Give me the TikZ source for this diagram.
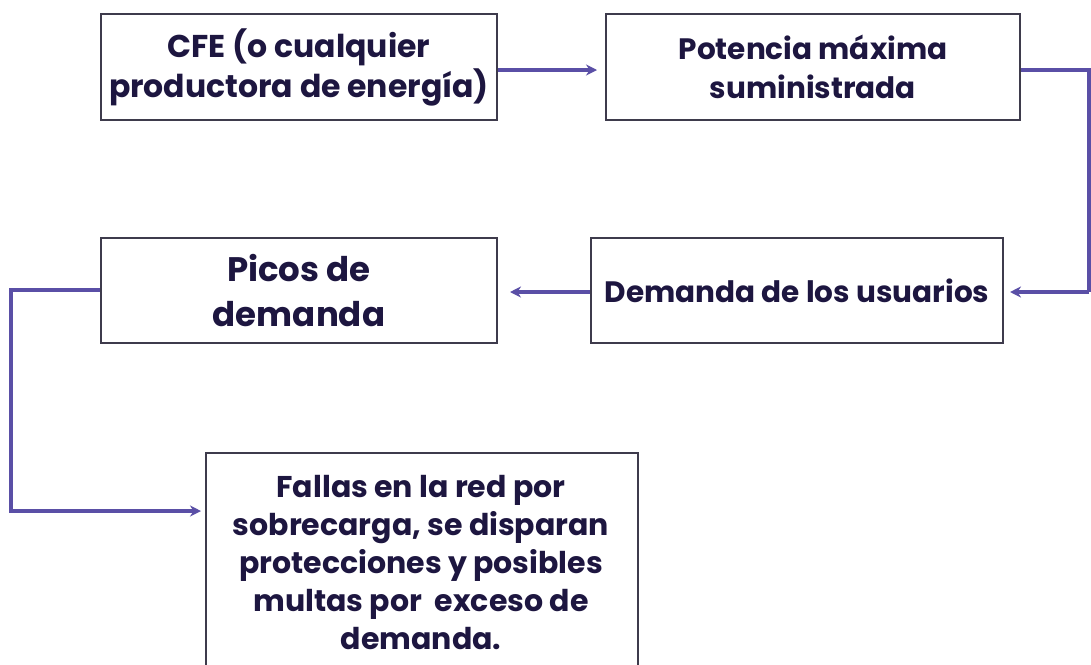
\documentclass[tikz,border=0pt]{standalone}
\usepackage{fontspec}
\setmainfont{Poppins}[BoldFont={* Bold}]
\usetikzlibrary{arrows.meta}
\definecolor{txt}{HTML}{1D1640}
\definecolor{frame}{HTML}{3E3B4C}
\definecolor{link}{HTML}{5A4FA6}
\tikzset{
  box/.style={draw=frame, line width=2pt, fill=white, align=center, inner sep=0pt, text=txt, font=\bfseries},
  conn/.style={draw=link, line width=3.8pt, -{Stealth[length=11pt,width=11pt]}},
  plain/.style={draw=link, line width=3.8pt}
}
\begin{document}
\begin{tikzpicture}[x=1pt,y=-1pt]
\useasboundingbox[fill=white] (0,0) rectangle (1091,664);
\node[box, minimum width=396pt, minimum height=106pt, font=\bfseries\fontsize{31.5}{40}\selectfont] (cfe) at (299,67) {CFE (o cualquier\\productora de energía)};
\node[box, minimum width=414pt, minimum height=106pt, font=\bfseries\fontsize{29.5}{39}\selectfont] (pot) at (813,67) {Potencia máxima\\suministrada};
\node[box, minimum width=412pt, minimum height=105pt, font=\bfseries\fontsize{29.5}{39}\selectfont] (dem) at (797,290.5) {Demanda de los usuarios};
\node[box, minimum width=396pt, minimum height=105pt, font=\bfseries\fontsize{34}{45}\selectfont] (pic) at (299,290.5) {Picos de\\demanda};
\node[box, minimum width=432pt, minimum height=240pt, anchor=north west] (fal) at (205,452) {};
\node[text=txt, font=\bfseries\fontsize{30}{38}\selectfont, align=center, anchor=north] (faltxt) at (421,472) {Fallas en la red por\\sobrecarga, se disparan\\protecciones y posibles\\multas por~ exceso de\\demanda.};
\coordinate (r1) at (1089,70);
\coordinate (r2) at (1089,292);
\coordinate (l1) at (11,290);
\coordinate (l2) at (11,511);
\draw[conn] (cfe.east |- 0,70) -- ([xshift=-8pt]pot.west |- 0,70);
\draw[plain] (pot.east |- r1) -- (r1) -- (r2);
\draw[conn] (r2) -- ([xshift=6pt]dem.east |- r2);
\draw[conn] (dem.west |- 0,292) -- ([xshift=12pt]pic.east |- 0,292);
\draw[conn] (pic.west |- l1) -- (l1) -- (l2) -- ([xshift=-4pt]fal.west |- l2);
\end{tikzpicture}
\end{document}
